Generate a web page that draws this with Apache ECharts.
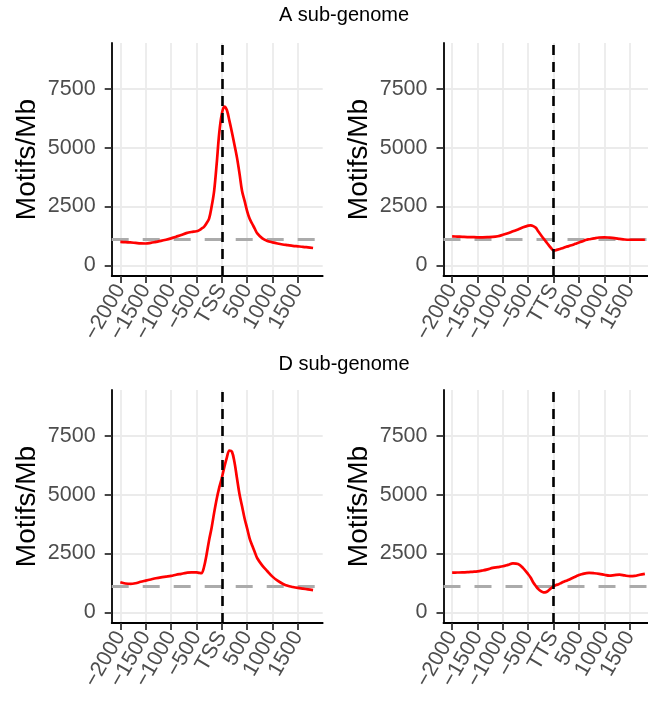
<!DOCTYPE html>
<html><head><meta charset="utf-8">
<script src="https://cdn.jsdelivr.net/npm/echarts@6/dist/echarts.min.js"></script>
<style>html,body{margin:0;padding:0;background:#fff}#c{width:648px;height:702px}</style>
</head><body><div id="c"></div>
<script>
// Distance from site (bp)
const positions = [-2000,-1900,-1800,-1700,-1600,-1500,-1400,-1300,-1200,-1100,-1000,-900,-800,-700,-600,-500,
  -450,-400,-350,-300,-250,-200,-150,-100,-50,0,50,100,150,200,250,300,350,400,450,500,550,600,650,700,
  800,900,1000,1100,1200,1300,1400,1500,1600,1700,1800];
// A sub-genome, around TSS
const aTSS = [1000,990,975,955,935,930,960,1000,1040,1090,1150,1220,1290,1370,1420,1450,
  1490,1560,1640,1790,1990,2500,3170,4320,5620,6420,6750,6600,6150,5660,5130,4580,3900,3160,2740,2310,1980,1770,1560,1360,
  1150,1040,980,930,890,860,830,810,790,765,740];
// A sub-genome, around TTS
const aTTS = [1235,1225,1215,1205,1200,1195,1195,1200,1210,1240,1300,1370,1450,1530,1620,1690,
  1700,1670,1600,1440,1290,1150,1010,870,740,640,650,685,715,750,790,820,855,890,930,970,1010,1050,1090,1110,
  1150,1185,1195,1180,1160,1130,1100,1090,1090,1090,1090];
// D sub-genome, around TSS
const dTSS = [1280,1230,1210,1240,1300,1350,1400,1450,1490,1520,1550,1600,1640,1680,1705,1700,
  1680,1665,1930,2450,3070,3600,4240,4820,5300,5700,6170,6580,6880,6830,6390,5700,5020,4510,3990,3570,3140,2840,2570,2300,
  1990,1750,1520,1350,1220,1130,1080,1040,1010,980,950];
// D sub-genome, around TTS
const dTTS = [1690,1695,1700,1710,1725,1740,1780,1830,1890,1925,1960,2020,2085,2060,1880,1620,
  1470,1270,1120,990,900,850,860,930,1030,1110,1160,1200,1250,1300,1345,1390,1440,1490,1540,1585,1620,1650,1670,1678,
  1665,1640,1600,1565,1585,1605,1570,1540,1550,1600,1640];

const xTicks = [-2000,-1500,-1000,-500,0,500,1000,1500];
const yTicks = [0,2500,5000,7500];
const backgroundLevel = 1095;
const panelTitles = ['A sub-genome','D sub-genome'];
const siteLabels = ['TSS','TTS'];
const yTitle = 'Motifs/Mb';

const FONT = '"Liberation Sans", Arial, Helvetica, sans-serif';
const panels = [
  {vals: aTSS, site: 0, left: 111.7, top: 43},
  {vals: aTTS, site: 1, left: 443.5, top: 43},
  {vals: dTSS, site: 0, left: 111.7, top: 390},
  {vals: dTTS, site: 1, left: 443.5, top: 390}
];

const grid = [], xAxis = [], yAxis = [], series = [];
panels.forEach((p, i) => {
  grid.push({left: p.left, top: p.top, width: 211, height: 233, containLabel: false, outerBoundsMode: 'none'});
  const site = siteLabels[p.site];
  xAxis.push({
    type: 'value', gridIndex: i, min: -2170, max: 1990,
    axisLine: {show: true, onZero: false, lineStyle: {color: '#000', width: 1.8}},
    axisTick: {show: true, length: 7, customValues: xTicks, lineStyle: {color: '#333', width: 1.8}},
    axisLabel: {customValues: xTicks, rotate: 60, margin: 10, fontSize: 21.5, color: '#4D4D4D', fontFamily: FONT,
      formatter: v => v === 0 ? site : (v < 0 ? '\u2212' + Math.abs(v) : String(v))},
    splitLine: {show: true, lineStyle: {color: '#EBEBEB', width: 1.8}}
  });
  yAxis.push({
    type: 'value', gridIndex: i, min: -450, max: 9450,
    name: yTitle, nameLocation: 'middle', nameGap: 70,
    nameTextStyle: {fontSize: 28, color: '#000', fontFamily: FONT},
    axisLine: {show: true, onZero: false, lineStyle: {color: '#000', width: 1.8}},
    axisTick: {show: true, length: 7, customValues: yTicks, lineStyle: {color: '#333', width: 1.8}},
    axisLabel: {customValues: yTicks, margin: 16, fontSize: 21.5, color: '#4D4D4D', fontFamily: FONT,
      formatter: v => String(v)},
    splitLine: {show: true, lineStyle: {color: '#EBEBEB', width: 1.8}}
  });
  series.push({
    type: 'line', xAxisIndex: i, yAxisIndex: i, data: [], z: 1,
    markLine: {silent: true, symbol: 'none', animation: false, z: 1, label: {show: false},
      data: [{yAxis: backgroundLevel, lineStyle: {color: '#ABABAB', type: [17, 14], width: 2.8}}]}
  });
  series.push({
    type: 'line', xAxisIndex: i, yAxisIndex: i, z: 3,
    data: positions.map((x, k) => [x, p.vals[k]]),
    smooth: 0.35, symbol: 'none', showSymbol: false,
    lineStyle: {color: '#FF0000', width: 2.7},
    markLine: {silent: true, symbol: 'none', animation: false, z: 5, label: {show: false},
      data: [{xAxis: 0, lineStyle: {color: '#000', type: [10, 7], width: 2.6}}]}
  });
});

const chart = echarts.init(document.getElementById('c'), null, {renderer: 'canvas'});
chart.setOption({
  animation: false,
  backgroundColor: '#fff',
  grid, xAxis, yAxis, series,
  graphic: [
    {type: 'text', x: 344, y: 15, style: {text: panelTitles[0], font: '20px ' + FONT, fill: '#000', align: 'center', verticalAlign: 'middle'}},
    {type: 'text', x: 344, y: 364, style: {text: panelTitles[1], font: '20px ' + FONT, fill: '#000', align: 'center', verticalAlign: 'middle'}}
  ]
});
</script></body></html>
